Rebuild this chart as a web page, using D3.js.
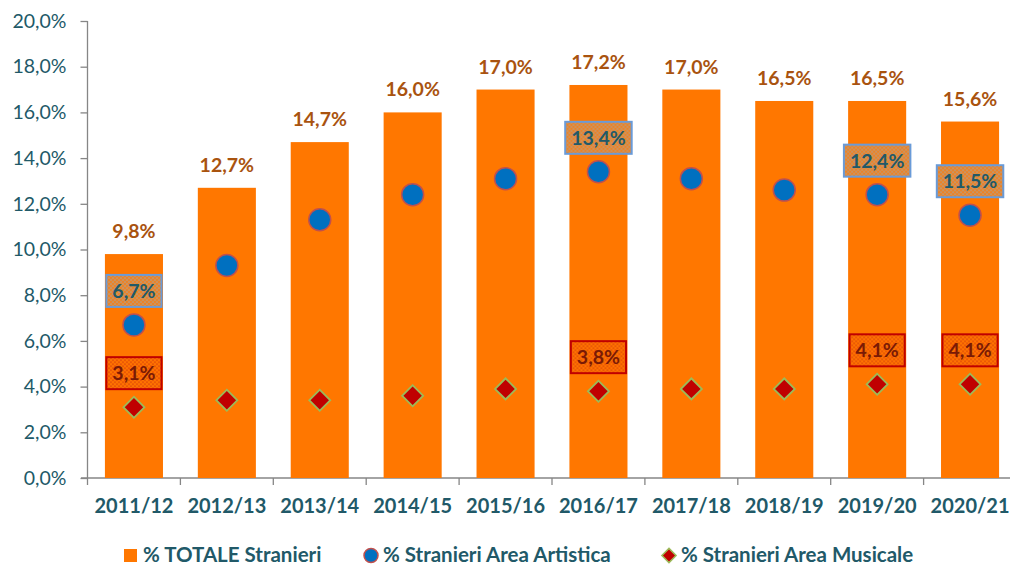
<!DOCTYPE html>
<html>
<head>
<meta charset="utf-8">
<script src="https://cdn.jsdelivr.net/npm/d3@7"></script>
<style>
  body { margin: 0; background: #fff; }
  svg { display: block; font-family: Lato, "Open Sans", sans-serif; }
</style>
</head>
<body>
<svg width="1010" height="566"></svg>
<script>
var anni = ["2011/12", "2012/13", "2013/14", "2014/15", "2015/16", "2016/17", "2017/18", "2018/19", "2019/20", "2020/21"];
var totale = [9.8, 12.7, 14.7, 16.0, 17.0, 17.2, 17.0, 16.5, 16.5, 15.6];
var artistica = [6.7, 9.3, 11.3, 12.4, 13.1, 13.4, 13.1, 12.6, 12.4, 11.5];
var musicale = [3.1, 3.4, 3.4, 3.6, 3.9, 3.8, 3.9, 3.9, 4.1, 4.1];
// which points carry a boxed label
var labelArtistica = [true, false, false, false, false, true, false, false, true, true];
var labelMusicale = [true, false, false, false, false, true, false, false, true, true];
var yTicks = [0, 2, 4, 6, 8, 10, 12, 14, 16, 18, 20];
var legenda = ["% TOTALE Stranieri", "% Stranieri Area Artistica", "% Stranieri Area Musicale"];

var testo = "#215968";
var arancio = "#FF7700";

function fmt(v) {
    return v.toFixed(1).replace(".", ",") + "%";
}

var svg = d3.select("svg");

// patterns for the label boxes
var defs = svg.append("defs");
var pBlu = defs.append("pattern").attr("id", "pBlu")
    .attr("width", 4).attr("height", 4).attr("patternUnits", "userSpaceOnUse");
pBlu.append("rect").attr("width", 4).attr("height", 4).attr("fill", "#EC8326");
pBlu.append("circle").attr("cx", 1).attr("cy", 1).attr("r", 0.85).attr("fill", "#A8A39B");
pBlu.append("circle").attr("cx", 3).attr("cy", 3).attr("r", 0.85).attr("fill", "#A8A39B");

var pRosso = defs.append("pattern").attr("id", "pRosso")
    .attr("width", 4).attr("height", 4).attr("patternUnits", "userSpaceOnUse");
pRosso.append("rect").attr("width", 4).attr("height", 4).attr("fill", "#FF7300");
pRosso.append("circle").attr("cx", 1).attr("cy", 1).attr("r", 0.85).attr("fill", "#D8400A");
pRosso.append("circle").attr("cx", 3).attr("cy", 3).attr("r", 0.85).attr("fill", "#D8400A");

var x = d3.scaleBand()
    .domain(anni)
    .range([87.5, 1016.5])
    .paddingInner(0.375)
    .paddingOuter(0.1875);

var y = d3.scaleLinear().domain([0, 20]).range([478, 21]);

// axes
var yAxis = svg.append("g")
    .attr("transform", "translate(87.5,0)")
    .call(d3.axisLeft(y).tickValues(yTicks).tickSize(7).tickPadding(14).tickFormat(fmt));
yAxis.selectAll("line, path").attr("stroke", "#868686").attr("stroke-width", 1.3);
yAxis.select(".domain").attr("d", "M0," + y(20) + "V" + y(0));
yAxis.selectAll("text").attr("fill", testo).attr("font-size", 19.5).attr("font-family", "Lato, sans-serif");

var xAxisG = svg.append("g").attr("transform", "translate(0,478)");
xAxisG.append("line")
    .attr("x1", 81).attr("x2", 1016.5)
    .attr("stroke", "#868686").attr("stroke-width", 1.3);
var confini = anni.map(function (d) { return x(d) - x.step() * x.paddingInner() / 2; });
xAxisG.selectAll(".tk").data(confini).enter().append("line")
    .attr("x1", function (d) { return d; }).attr("x2", function (d) { return d; })
    .attr("y1", 0).attr("y2", 7)
    .attr("stroke", "#868686").attr("stroke-width", 1.3);
xAxisG.selectAll(".lab").data(anni).enter().append("text")
    .attr("x", function (d) { return x(d) + x.bandwidth() / 2; })
    .attr("y", 35)
    .attr("text-anchor", "middle")
    .attr("font-size", 20).attr("font-weight", "bold")
    .attr("fill", testo)
    .text(function (d) { return d; });

// bars
svg.selectAll(".bar").data(totale).enter().append("rect")
    .attr("x", function (d, i) { return x(anni[i]); })
    .attr("y", function (d) { return y(d); })
    .attr("width", x.bandwidth())
    .attr("height", function (d) { return y(0) - y(d); })
    .attr("fill", arancio);

svg.selectAll(".lbTot").data(totale).enter().append("text")
    .attr("x", function (d, i) { return x(anni[i]) + x.bandwidth() / 2; })
    .attr("y", function (d) { return y(d) - 16; })
    .attr("text-anchor", "middle")
    .attr("font-size", 19.5).attr("font-weight", "bold")
    .attr("fill", "#A9530F")
    .text(fmt);

function cx(i) { return x(anni[i]) + x.bandwidth() / 2; }

// boxed labels
function boxLabel(val, i, fill, stroke, col) {
    var g = svg.append("g").attr("transform", "translate(" + cx(i) + "," + (y(val) - 34) + ")");
    var t = g.append("text")
        .attr("text-anchor", "middle").attr("dy", "0.36em")
        .attr("font-size", 19.5).attr("font-weight", "bold")
        .attr("fill", col).text(fmt(val));
    var w = t.node().getComputedTextLength() + 12;
    g.insert("rect", "text")
        .attr("x", -w / 2).attr("y", -16).attr("width", w).attr("height", 32)
        .attr("fill", fill).attr("stroke", stroke).attr("stroke-width", 2);
}

artistica.forEach(function (v, i) {
    if (labelArtistica[i]) boxLabel(v, i, "url(#pBlu)", "#6A9BD8", testo);
});
musicale.forEach(function (v, i) {
    if (labelMusicale[i]) boxLabel(v, i, "url(#pRosso)", "#C00000", "#7A1A05");
});

// points
svg.selectAll(".art").data(artistica).enter().append("circle")
    .attr("cx", function (d, i) { return cx(i); })
    .attr("cy", function (d) { return y(d); })
    .attr("r", 11)
    .attr("fill", "#0070C0")
    .attr("stroke", "#C0504D").attr("stroke-width", 1.5);

var rombo = d3.symbol().type(d3.symbolSquare).size(220);
svg.selectAll(".mus").data(musicale).enter().append("path")
    .attr("d", rombo)
    .attr("transform", function (d, i) { return "translate(" + cx(i) + "," + y(d) + ") rotate(45)"; })
    .attr("fill", "#C00000")
    .attr("stroke", "#9BBB59").attr("stroke-width", 1.8);

// legend
var leg = svg.append("g").attr("transform", "translate(0,555)");
leg.append("rect").attr("x", 124).attr("y", -6).attr("width", 13).attr("height", 13).attr("fill", arancio);
leg.append("circle").attr("cx", 371).attr("cy", 0.5).attr("r", 7)
    .attr("fill", "#0070C0").attr("stroke", "#C0504D").attr("stroke-width", 1.5);
leg.append("path").attr("d", d3.symbol().type(d3.symbolSquare).size(100))
    .attr("transform", "translate(669,0.5) rotate(45)")
    .attr("fill", "#C00000").attr("stroke", "#9BBB59").attr("stroke-width", 1.5);
var legX = [143, 383, 681];
leg.selectAll(".lt").data(legenda).enter().append("text")
    .attr("x", function (d, i) { return legX[i]; })
    .attr("dy", "0.36em")
    .attr("font-size", 20.5).attr("font-weight", "bold")
    .attr("fill", testo)
    .text(function (d) { return d; });
</script>
</body>
</html>
